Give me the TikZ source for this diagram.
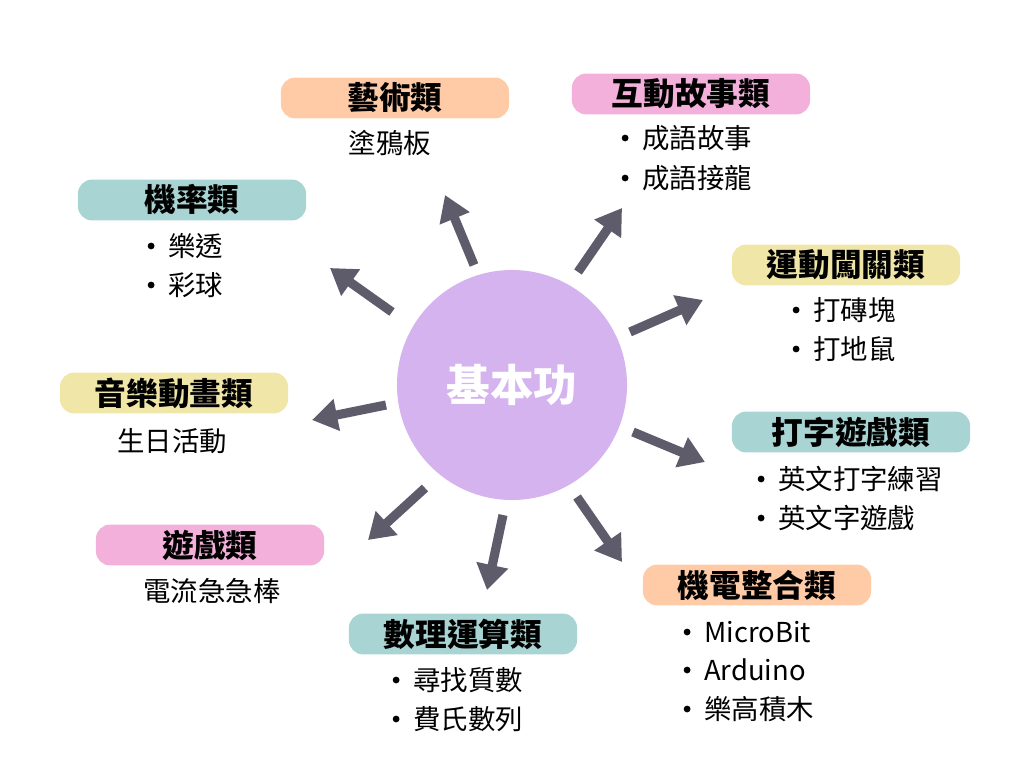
\documentclass[tikz,border=0pt]{standalone}
\usepackage{fontspec}
\setmainfont{Noto Sans CJK TC}
\usetikzlibrary{arrows.meta}
\definecolor{peach}{HTML}{FFCBA6}
\definecolor{pinkc}{HTML}{F2B0DA}
\definecolor{tealc}{HTML}{A8D4D4}
\definecolor{yellowc}{HTML}{F0E6A8}
\definecolor{lilac}{HTML}{D4B3EE}
\definecolor{arrowc}{HTML}{5E5C6B}
\tikzset{
  pill/.style={rounded corners=10pt, minimum width=5.7cm, minimum height=1.02cm, font=\fontsize{22.5}{24}\selectfont\bfseries, inner sep=0pt},
  item/.style={font=\fontsize{19.5}{21}\selectfont, anchor=west, inner sep=0pt,
    label={[circle, fill=black, inner sep=0pt, minimum size=0.17cm, label distance=0.33cm]west:{}}},
  plain/.style={font=\fontsize{19.5}{21}\selectfont, inner sep=0pt},
  spoke/.style={draw=arrowc, line width=6.5pt, -{Triangle[length=18pt,width=22pt]}}
}
\begin{document}
\begin{tikzpicture}[x=0.025cm,y=-0.025cm]
  \useasboundingbox (0,0) rectangle (1024,768);
  % centre
  \node[circle, fill=lilac, minimum size=5.75cm, text=white, font=\fontsize{31}{33}\selectfont\bfseries] (core) at (512,385) {基本功};

  % categories
  \node[pill, fill=peach] (art) at (395,98) {藝術類};
  \node[plain] (art1) at (390,143) {塗鴉板};

  \node[pill, fill=pinkc, minimum width=5.95cm] (story) at (691,94) {互動故事類};
  \node[item] (story1) at (642,138) {成語故事};
  \node[item] (story2) at (642,178) {成語接龍};

  \node[pill, fill=tealc] (prob) at (192,200) {機率類};
  \node[item] (prob1) at (168,246) {樂透};
  \node[item] (prob2) at (168,285) {彩球};

  \node[pill, fill=yellowc] (sport) at (846,265) {運動闖關類};
  \node[item] (sport1) at (813,310) {打磚塊};
  \node[item] (sport2) at (813,349) {打地鼠};

  \node[pill, fill=yellowc] (music) at (174,393) {音樂動畫類};
  \node[plain] (music1) at (172,441) {生日活動};

  \node[pill, fill=tealc, minimum width=5.95cm] (type) at (851,432) {打字遊戲類};
  \node[item] (type1) at (778,479) {英文打字練習};
  \node[item] (type2) at (778,518) {英文字遊戲};

  \node[pill, fill=pinkc] (game) at (210,545) {遊戲類};
  \node[plain] (game1) at (212,591) {電流急急棒};

  \node[pill, fill=tealc] (math) at (463,634) {數理運算類};
  \node[item] (math1) at (413,680) {尋找質數};
  \node[item] (math2) at (413,719) {費氏數列};

  \node[pill, fill=peach] (mech) at (757,585) {機電整合類};
  \node[item] (mech1) at (704,632) {MicroBit};
  \node[item] (mech2) at (704,670) {Arduino};
  \node[item] (mech3) at (704,709) {樂高積木};

  % spokes
  \foreach \sx/\sy/\ex/\ey in {474/265/445/195, 578/272/622/208, 392/312/330/268,
      630/332/703/300, 386/405/312/420, 633/432/705/462, 425/488/368/540,
      503/515/487/590, 577/497/622/562} {
    \coordinate (s) at (\sx,\sy);
    \coordinate (e) at (\ex,\ey);
    \draw[spoke] (s) -- (e);
  }
\end{tikzpicture}
\end{document}
